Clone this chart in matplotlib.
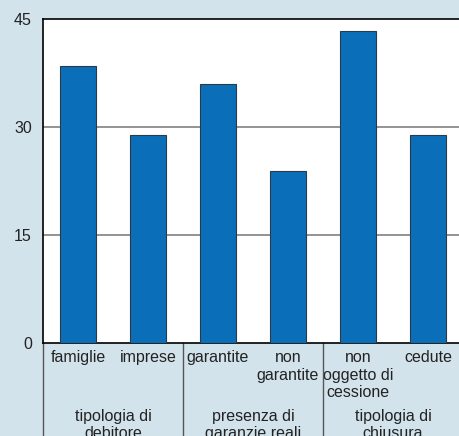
import numpy as np
import matplotlib.pyplot as plt
from matplotlib import transforms

# data
categories = ["famiglie", "imprese", "garantite", "non\ngarantite",
              "non\noggetto di\ncessione", "cedute"]
values = [38.4, 28.9, 35.9, 23.8, 43.4, 28.9]
groups = ["tipologia di\ndebitore", "presenza di\ngaranzie reali",
          "tipologia di\nchiusura"]
yticks = [0, 15, 30, 45]

BG = "#d3e3ec"
BAR = "#0a6fb8"
TXT = "#222222"
FS = 11.5

plt.rcParams['font.family'] = ['Liberation Sans', 'DejaVu Sans']

W, H = 459, 436
fig = plt.figure(figsize=(W / 100, H / 100), dpi=100, facecolor=BG)
# right edge of the plot runs off the figure, as in the reference
ax = fig.add_axes([43 / W, (H - 342.7) / H, 420 / W, 323.7 / H])
ax.set_facecolor("white")

x = np.arange(len(categories))
ax.bar(x, values, width=0.52, color=BAR, edgecolor="#2b3a48", linewidth=0.8,
       zorder=3)

ax.set_xlim(-0.5, len(categories) - 0.5)
ax.set_ylim(0, 45)
ax.set_yticks(yticks)
ax.set_yticklabels([str(t) for t in yticks], fontsize=FS, color=TXT)
ax.tick_params(axis="y", length=0, pad=8)
for t in [15, 30]:
    ax.axhline(t, color="#808080", linewidth=1.2, zorder=1)

ax.set_xticks(x)
ax.set_xticklabels(categories, fontsize=FS, color=TXT, linespacing=1.2)
ax.tick_params(axis="x", length=0, pad=5.5)

for s in ["top", "left", "bottom"]:
    ax.spines[s].set_color("black")
    ax.spines[s].set_linewidth(1.2)
ax.spines["right"].set_visible(False)

# group separators and group labels below the axis
trans = transforms.blended_transform_factory(ax.transData, fig.transFigure)
for xs in [-0.5, 1.5, 3.5]:
    ax.plot([xs, xs], [0, (H - 342.7) / H], transform=trans, color="#555555",
            linewidth=1.0, clip_on=False)
for i, g in enumerate(groups):
    ax.text(2 * i + 0.5, (H - 408.5) / H, g, transform=trans, ha="center",
            va="top", fontsize=FS, color=TXT, linespacing=1.2)

fig.savefig("out.png", dpi=100, facecolor=BG)
